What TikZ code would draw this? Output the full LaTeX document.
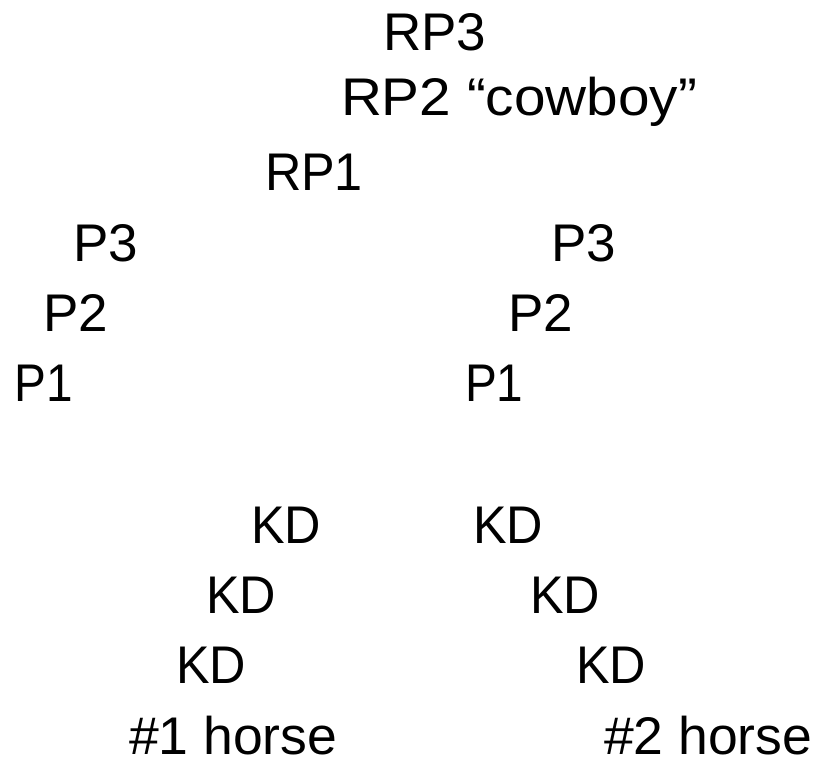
\documentclass[tikz,border=0pt]{standalone}
\usepackage{fontspec}
\setmainfont{Liberation Sans}
\newcommand{\sx}[2]{\scalebox{#1}[1]{#2}}
\begin{document}
\begin{tikzpicture}[x=1pt,y=-1pt,
  lbl/.style={anchor=base west,inner sep=0pt,outer sep=0pt,font=\fontsize{53}{60}\selectfont}]
\useasboundingbox (0,0) rectangle (815,758);
\node[lbl] (rp3) at (383,50) {RP3};
\node[lbl] (rp2) at (341,115) {\sx{1.07}{RP2 “cowboy”}};
\node[lbl] (rp1) at (265,190) {\sx{0.95}{RP1}};
\node[lbl] (lp3) at (73,261) {P3};
\node[lbl] (lp2) at (43,331) {P2};
\node[lbl] (lp1) at (15,401) {\sx{0.9}{P1}};
\node[lbl] (rpp3) at (551,261) {P3};
\node[lbl] (rpp2) at (508,331) {P2};
\node[lbl] (rpp1) at (465,401) {\sx{0.9}{P1}};
\node[lbl] (lkd1) at (251,543) {\sx{0.95}{KD}};
\node[lbl] (lkd2) at (206,613) {\sx{0.95}{KD}};
\node[lbl] (lkd3) at (176,683) {\sx{0.95}{KD}};
\node[lbl,text depth=0pt] (h1) at (129,754) {\sx{1.01}{\#1 horse}};
\node[lbl] (rkd1) at (473,543) {\sx{0.95}{KD}};
\node[lbl] (rkd2) at (530,613) {\sx{0.95}{KD}};
\node[lbl] (rkd3) at (576,683) {\sx{0.95}{KD}};
\node[lbl,text depth=0pt] (h2) at (604,754) {\sx{1.01}{\#2 horse}};
\end{tikzpicture}
\end{document}
